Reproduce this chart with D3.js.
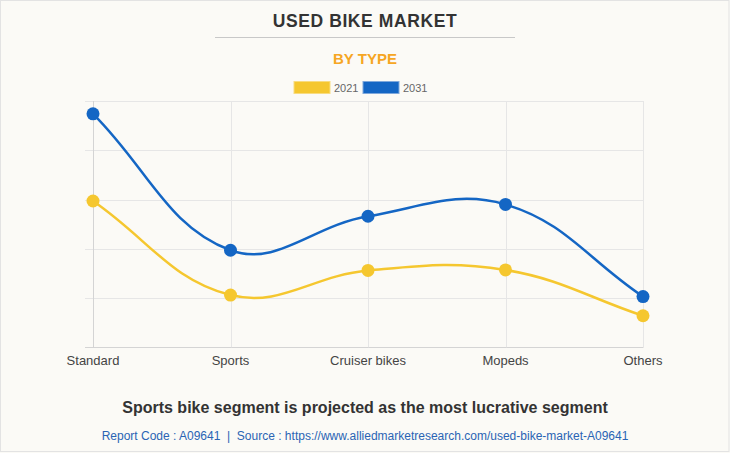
<!DOCTYPE html>
<html><head><meta charset="utf-8">
<script src="https://cdn.jsdelivr.net/npm/d3@7/dist/d3.min.js"></script>
<style>
html,body{margin:0;padding:0;background:#fbfaf6;}
svg{display:block;}
</style></head>
<body>
<svg id="chart" width="730" height="453"></svg>
<script>
const categories = ["Standard", "Sports", "Cruiser bikes", "Mopeds", "Others"];
const seriesNames = ["2021", "2031"];
const values2021 = [2.97, 1.06, 1.56, 1.57, 0.64];
const values2031 = [4.74, 1.97, 2.66, 2.90, 1.03];
const yTicks = [0, 1, 2, 3, 4, 5];
const colors = ["#f5c72f", "#1466c4"];

const svg = d3.select("#chart");
const W = 730, H = 453;
const font = "'Liberation Sans', Arial, sans-serif";

svg.append("rect").attr("x",0.5).attr("y",0.5).attr("width",W-1.5).attr("height",H-2)
  .attr("fill","#fbfaf6").attr("stroke","#e3e3e3");

svg.append("text").attr("x",365).attr("y",27).attr("text-anchor","middle")
  .attr("font-family",font).attr("font-weight","bold").attr("font-size",17.5)
  .attr("letter-spacing",0.6).attr("fill","#333").text("USED BIKE MARKET");
svg.append("line").attr("x1",215).attr("x2",515).attr("y1",37.5).attr("y2",37.5)
  .attr("stroke","#c8c8c8").attr("stroke-width",1);
svg.append("text").attr("x",365).attr("y",64).attr("text-anchor","middle")
  .attr("font-family",font).attr("font-weight","bold").attr("font-size",15)
  .attr("fill","#f6a623").text("BY TYPE");

// legend
const legendX = [294, 363];
seriesNames.forEach((s,i)=>{
  svg.append("rect").attr("x",legendX[i]).attr("y",81.5).attr("width",36).attr("height",12)
    .attr("fill",colors[i]).attr("stroke", i===0?"#f8dc80":"#7fa8db").attr("stroke-width",1);
  svg.append("text").attr("x",legendX[i]+40).attr("y",91.5)
    .attr("font-family",font).attr("font-size",11).attr("fill","#666").text(s);
});

const x = d3.scalePoint().domain(categories).range([93, 643]);
const y = d3.scaleLinear().domain([0,5]).range([347.3, 101]);

const g = svg.append("g");
// horizontal grid
g.selectAll(".hg").data(yTicks).enter().append("line")
  .attr("x1",85).attr("x2",643.5)
  .attr("y1",d=>Math.round(y(d))+0.5).attr("y2",d=>Math.round(y(d))+0.5)
  .attr("stroke",d=>d===0?"#d4d4d4":"#e6e6e6").attr("stroke-width",1);
// vertical grid
g.selectAll(".vg").data(categories).enter().append("line")
  .attr("x1",d=>Math.round(x(d))+0.5).attr("x2",d=>Math.round(x(d))+0.5)
  .attr("y1",y(5)).attr("y2",y(0))
  .attr("stroke",(d,i)=>i===0?"#d4d4d4":"#e6e6e6").attr("stroke-width",1);

// x labels
g.selectAll(".xl").data(categories).enter().append("text")
  .attr("x",d=>x(d)).attr("y",365).attr("text-anchor","middle")
  .attr("font-family",font).attr("font-size",13).attr("fill","#444").text(d=>d);

// Chart.js-like spline curve (tension 0.4)
function ChartJsCurve(context){ this._context = context; }
ChartJsCurve.prototype = {
  areaStart(){}, areaEnd(){},
  lineStart(){ this._pts = []; },
  point(px,py){ this._pts.push([+px,+py]); },
  lineEnd(){
    const p = this._pts, t = 0.4, n = p.length, ctx = this._context;
    if(!n) return;
    const cps = p.map((cur,i)=>{
      const prev = p[i-1]||cur, next = p[i+1]||cur;
      const d01 = Math.hypot(cur[0]-prev[0],cur[1]-prev[1]);
      const d12 = Math.hypot(next[0]-cur[0],next[1]-cur[1]);
      let s01 = d01/(d01+d12), s12 = d12/(d01+d12);
      s01 = isNaN(s01)?0:s01; s12 = isNaN(s12)?0:s12;
      const fa = t*s01, fb = t*s12;
      return {
        prev:[cur[0]-fa*(next[0]-prev[0]), cur[1]-fa*(next[1]-prev[1])],
        next:[cur[0]+fb*(next[0]-prev[0]), cur[1]+fb*(next[1]-prev[1])]
      };
    });
    ctx.moveTo(p[0][0],p[0][1]);
    for(let i=1;i<n;i++){
      ctx.bezierCurveTo(cps[i-1].next[0],cps[i-1].next[1],cps[i].prev[0],cps[i].prev[1],p[i][0],p[i][1]);
    }
  }
};
const chartJsCurve = ctx => new ChartJsCurve(ctx);

const line = d3.line().x((d,i)=>x(categories[i])).y(d=>y(d)).curve(chartJsCurve);
const series = [values2021, values2031];
series.forEach((vals,si)=>{
  g.append("path").datum(vals).attr("d",line).attr("fill","none")
    .attr("stroke",colors[si]).attr("stroke-width",2.5);
});
series.forEach((vals,si)=>{
  g.selectAll(".pt"+si).data(vals).enter().append("circle")
    .attr("cx",(d,i)=>x(categories[i])).attr("cy",d=>y(d)).attr("r",6.5)
    .attr("fill",colors[si]);
});

svg.append("text").attr("x",365).attr("y",413).attr("text-anchor","middle")
  .attr("font-family",font).attr("font-weight","bold").attr("font-size",16)
  .attr("fill","#333").text("Sports bike segment is projected as the most lucrative segment");
svg.append("text").attr("x",365).attr("y",440).attr("text-anchor","middle")
  .attr("font-family",font).attr("font-size",12)
  .attr("fill","#2a64b4").text("Report Code : A09641  |  Source : https://www.alliedmarketresearch.com/used-bike-market-A09641")
  .attr("xml:space","preserve").style("white-space","pre");
</script>
</body></html>
